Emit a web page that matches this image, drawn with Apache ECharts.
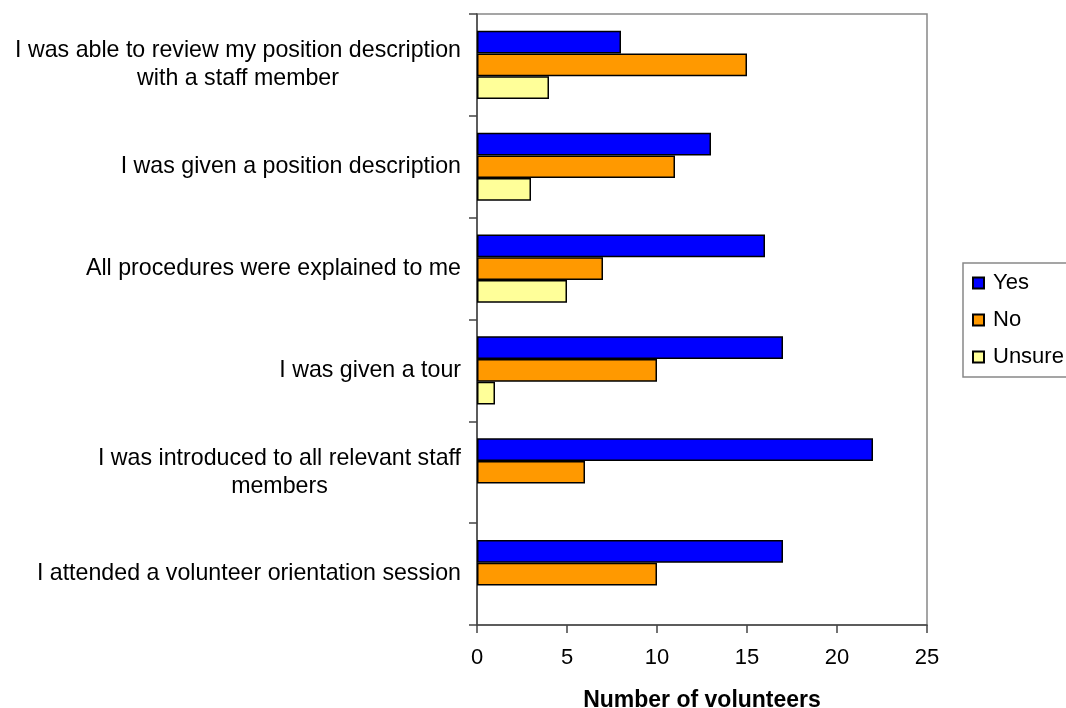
<!DOCTYPE html>
<html>
<head>
<meta charset="utf-8">
<script src="https://cdn.jsdelivr.net/npm/echarts@6/dist/echarts.min.js"></script>
<style>
  html, body { margin: 0; padding: 0; background: #fff; }
  #chart { width: 1066px; height: 708px; }
</style>
</head>
<body>
<div id="chart"></div>
<script>
// Survey statements, listed top to bottom
const categories = [
  "I was able to review my position description\nwith a staff member",
  "I was given a position description",
  "All procedures were explained to me",
  "I was given a tour",
  "I was introduced to all relevant staff\nmembers",
  "I attended a volunteer orientation session"
];
const seriesNames = ["Yes", "No", "Unsure"];
const yesValues = [8, 13, 16, 17, 22, 17];
const noValues = [15, 11, 7, 10, 6, 10];
const unsureValues = [4, 3, 5, 1, null, null];
const xTicks = { min: 0, max: 25, interval: 5 };

const FONT = "'Liberation Sans', Arial, sans-serif";
const colors = ["#0000FF", "#FF9900", "#FFFF99"];
const values = [yesValues, noValues, unsureValues];

const chart = echarts.init(document.getElementById('chart'), null, { renderer: 'canvas' });

chart.setOption({
  animation: false,
  backgroundColor: '#ffffff',
  textStyle: { fontFamily: FONT, color: '#000' },
  grid: {
    left: 477, top: 14, width: 450, height: 611,
    outerBoundsMode: 'none',
    containLabel: false,
    show: true, borderColor: '#888888', borderWidth: 1.5, backgroundColor: 'transparent'
  },
  legend: {
    orient: 'vertical',
    left: 963, top: 263,
    data: seriesNames,
    itemWidth: 11, itemHeight: 11, itemGap: 15,
    icon: 'rect',
    padding: [9, 30, 9, 9],
    borderColor: '#888888', borderWidth: 1.5,
    textStyle: { fontFamily: FONT, fontSize: 22, lineHeight: 22, color: '#000', padding: [0, 0, 0, 4] }
  },
  xAxis: {
    type: 'value',
    min: xTicks.min, max: xTicks.max, interval: xTicks.interval,
    name: 'Number of volunteers',
    nameLocation: 'middle',
    nameGap: 64,
    nameTextStyle: { fontFamily: FONT, fontSize: 23, fontWeight: 'bold', color: '#000', lineHeight: 23 },
    axisLine: { show: true, lineStyle: { color: '#444', width: 1.5 } },
    axisTick: { show: true, inside: false, length: 8, lineStyle: { color: '#444', width: 1.5 } },
    axisLabel: { fontFamily: FONT, fontSize: 22, lineHeight: 22, color: '#000', margin: 22 },
    splitLine: { show: false }
  },
  yAxis: {
    type: 'category',
    inverse: true,
    data: categories,
    axisLine: { show: true, lineStyle: { color: '#444', width: 1.5 } },
    axisTick: { show: true, inside: false, length: 8, lineStyle: { color: '#444', width: 1.5 } },
    axisLabel: {
      margin: 16,
      formatter: function (v) {
        return v.split('\n').map(function (s) { return '{c|' + s + '}'; }).join('\n');
      },
      rich: {
        c: { align: 'center', fontFamily: FONT, fontSize: 23.2, lineHeight: 28, color: '#000' }
      }
    },
    splitLine: { show: false }
  },
  series: seriesNames.map(function (name, i) {
    return {
      name: name,
      type: 'bar',
      data: values[i],
      barGap: '0%',
      barCategoryGap: '33%',
      itemStyle: { color: colors[i], borderColor: '#000', borderWidth: 1.5 }
    };
  })
});
</script>
</body>
</html>
